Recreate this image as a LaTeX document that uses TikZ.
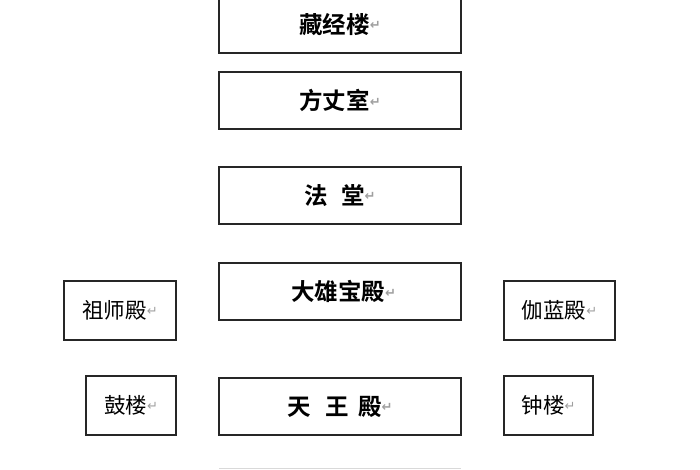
\documentclass[tikz,border=0pt]{standalone}
\usepackage{fontspec}
\newfontfamily\cjk{Noto Sans CJK SC}[BoldFont={Noto Sans CJK SC Bold}]
\newfontfamily\symf{DejaVu Sans}
\newcommand{\parmk}{\raisebox{0.15em}{\symf\color{gray!75}\fontsize{13pt}{13pt}\selectfont ↵}}
\begin{document}
\begin{tikzpicture}[x=1pt,y=-1pt,
  hall/.style={draw=black!85,line width=1.9pt,rectangle,inner sep=0pt,
    minimum width=242pt,minimum height=57pt,font=\cjk\bfseries\fontsize{23.5pt}{23.5pt}\selectfont},
  side/.style={draw=black!85,line width=1.9pt,rectangle,inner sep=0pt,
    minimum height=59pt,font=\cjk\fontsize{21.5pt}{21.5pt}\selectfont}]
\useasboundingbox[fill=white] (0,0) rectangle (700,470);
\node[hall] (cangjing) at (340,24.5) {藏经楼\parmk};
\node[hall] (fangzhang) at (340,100.5) {方丈室\parmk};
\node[hall] (fatang) at (340,195.5) {法\hspace{0.55em}堂\parmk};
\node[hall] (daxiong) at (340,291.5) {\hspace{0.3em}大雄宝殿\parmk};
\node[hall] (tianwang) at (340,406.5) {天\hspace{0.6em}王\hspace{0.4em}殿\parmk};
\node[side,minimum width=112pt] (zushi) at (120,310.5) {祖师殿\parmk};
\node[side,minimum width=90pt] (gulou) at (131,405.5) {鼓楼\parmk};
\node[side,minimum width=111pt] (qielan) at (559.5,310.5) {伽蓝殿\parmk};
\node[side,minimum width=89pt] (zhonglou) at (548.5,405.5) {钟楼\parmk};
\coordinate (nl) at (219,468.5);
\coordinate (nr) at (461,468.5);
\draw[gray!30,line width=1pt] (nl) -- (nr);
\end{tikzpicture}
\end{document}
